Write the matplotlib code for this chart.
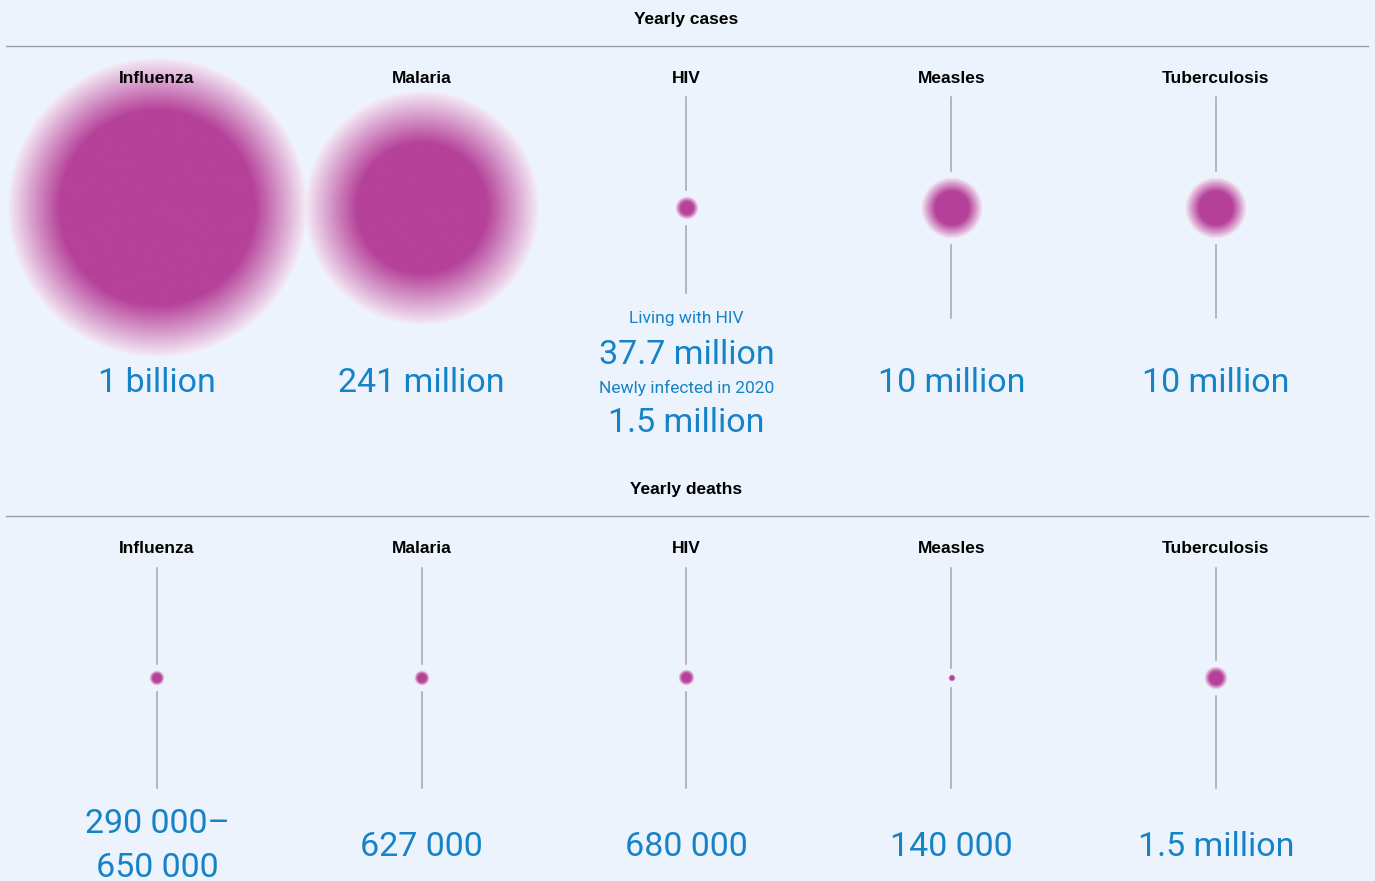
import numpy as np
import matplotlib
matplotlib.use("Agg")
from matplotlib import pyplot as plt

# data
diseases = ["Influenza", "Malaria", "HIV", "Measles", "Tuberculosis"]
cases_millions = [1000, 241, 1.5, 10, 10]          # HIV circle = newly infected
case_labels = ["1 billion", "241 million", None, "10 million", "10 million"]
hiv_living_label = "37.7 million"
hiv_new_label = "1.5 million"
deaths_millions = [0.65, 0.627, 0.68, 0.14, 1.5]   # influenza: 0.29-0.65
death_labels = ["290 000–\n650 000", "627 000", "680 000", "140 000", "1.5 million"]

BG = "#ECF3FC"
MAGENTA = np.array([181, 65, 153]) / 255.0
PALE = np.array([244, 236, 247]) / 255.0
BLUE = "#1683C6"
GRAY = "#A3A3AB"
TITLE_FONT = "Liberation Sans"
NUM_FONT = "Roboto"

W, H = 1375, 881
fig = plt.figure(figsize=(W / 100, H / 100), dpi=100, facecolor=BG)
ax = fig.add_axes([0, 0, 1, 1])
ax.set_facecolor(BG)

col_x = [157 + i * 264.75 for i in range(len(diseases))]


def radius(v):
    # area-like (sqrt) scale, softly clamped so the biggest circle fits
    R, k = 155.0, 9.8
    return R * np.tanh(k * np.sqrt(v) / R)


def blob(cx, cy, r):
    fade = min(0.45 * r, 52.0) / r
    core = 1 - fade
    n = max(int(r * 4), 40)
    g = np.linspace(-1, 1, n)
    xx, yy = np.meshgrid(g, g)
    t = np.sqrt(xx ** 2 + yy ** 2)
    w = np.clip((1 - t) / (1 - core), 0, 1)
    img = np.zeros((n, n, 4))
    for c in range(3):
        img[..., c] = PALE[c] * (1 - w) + MAGENTA[c] * w
    img[..., 3] = np.clip((1 - t) * r * 1.2, 0, 1)
    ax.imshow(img, extent=(cx - r, cx + r, cy + r, cy - r), interpolation="bilinear", zorder=3)


def stem(cx, top, bottom, cy, r):
    gap = r + 6
    if cy - gap > top:
        ax.plot([cx, cx], [top, cy - gap], color=GRAY, lw=1.1, zorder=1)
    if cy + gap < bottom:
        ax.plot([cx, cx], [cy + gap, bottom], color=GRAY, lw=1.1, zorder=1)


def big(x, y, s):
    ax.text(x, y, s, ha="center", va="baseline", fontsize=24.5,
            family=NUM_FONT, color=BLUE)


def small(x, y, s):
    ax.text(x, y, s, ha="center", va="baseline", fontsize=12.5,
            family=NUM_FONT, color=BLUE)


def name_label(x, y, s):
    ax.text(x, y, s, ha="center", va="baseline", fontsize=12.5,
            fontweight="bold", family=TITLE_FONT, color="black", zorder=5)


# section headers
for title, ty, ly in [("Yearly cases", 24, 46), ("Yearly deaths", 494, 516)]:
    name_label(686, ty, title)
    ax.plot([6, 1368], [ly, ly], color="#9C9CA4", lw=1.0)

# yearly cases row
for i, name in enumerate(diseases):
    cx = col_x[i]
    r = radius(cases_millions[i])
    name_label(cx, 83, name)
    bottom = 293 if name == "HIV" else 318
    stem(cx, 97, bottom, 208, r)
    blob(cx, 208, r)
    if case_labels[i]:
        big(cx, 392, case_labels[i])

hx = col_x[2]
small(hx, 323, "Living with HIV")
big(hx, 364, hiv_living_label)
small(hx, 393, "Newly infected in 2020")
big(hx, 432, hiv_new_label)

# yearly deaths row
for i, name in enumerate(diseases):
    cx = col_x[i]
    r = radius(deaths_millions[i])
    name_label(cx, 553, name)
    stem(cx, 568, 788, 678, r)
    blob(cx, 678, r)
    lines = death_labels[i].split("\n")
    if len(lines) == 2:
        big(cx, 833, lines[0])
        big(cx, 877, lines[1])
    else:
        big(cx, 856, lines[0])

ax.set_xlim(0, W)
ax.set_ylim(H, 0)
ax.set_aspect("auto")
ax.axis("off")

fig.savefig("out.png", dpi=100, facecolor=BG)
